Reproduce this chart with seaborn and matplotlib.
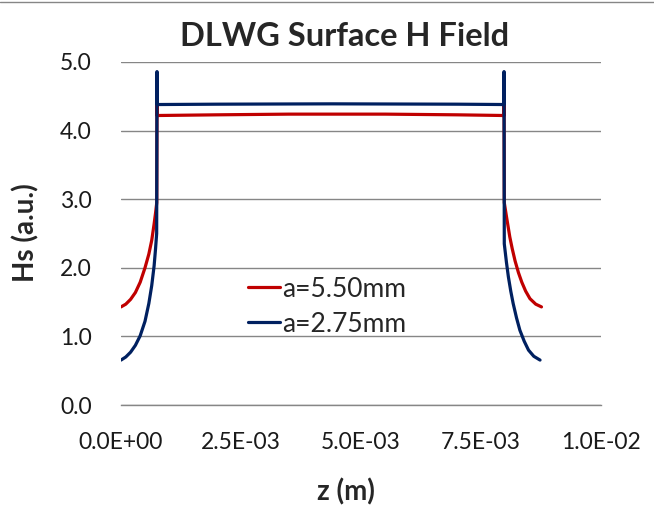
import matplotlib
matplotlib.use("Agg")
import numpy as np
import pandas as pd
import seaborn as sns
import matplotlib.pyplot as plt
from matplotlib.ticker import MultipleLocator, FuncFormatter
from matplotlib.lines import Line2D

# values
red_z = [0.0, 0.0001, 0.0002, 0.0003, 0.0004, 0.0005, 0.00058, 0.00064, 0.00069, 0.00072,
         0.000745, 0.00075, 0.000755, 0.002, 0.0035, 0.0044, 0.0055, 0.007, 0.007975,
         0.00798, 0.007985, 0.00803, 0.0081, 0.00815, 0.00821, 0.00828, 0.00835,
         0.00843, 0.00852, 0.00864, 0.00876]
red_hs = [1.43, 1.47, 1.54, 1.64, 1.79, 2.0, 2.2, 2.4, 2.64, 2.8,
          2.95, 4.56, 4.22, 4.23, 4.24, 4.24, 4.24, 4.23, 4.22,
          4.56, 2.95, 2.75, 2.45, 2.28, 2.1, 1.93, 1.79,
          1.66, 1.55, 1.47, 1.43]

blue_z = [0.0, 0.0001, 0.0002, 0.0003, 0.0004, 0.0005, 0.00058, 0.00064, 0.00069, 0.00072,
          0.000743, 0.00075, 0.000755, 0.002, 0.0044, 0.007, 0.007975, 0.00798,
          0.007985, 0.00803, 0.00807, 0.00812, 0.00817, 0.00824, 0.00831, 0.0084,
          0.00849, 0.0086, 0.00873]
blue_hs = [0.655, 0.70, 0.77, 0.87, 1.01, 1.22, 1.48, 1.74, 2.03, 2.28,
           2.5, 4.86, 4.38, 4.385, 4.39, 4.385, 4.38, 4.86,
           2.35, 2.08, 1.87, 1.66, 1.48, 1.27, 1.09, 0.93,
           0.80, 0.71, 0.655]

series = ["a=5.50mm", "a=2.75mm"]
colors = ["#C00000", "#002060"]
y_ticks = [0.0, 1.0, 2.0, 3.0, 4.0, 5.0]
y_ticklabels = ["0.0", "1.0", "2.0", "3.0", "4.0", "5.0"]

df = pd.concat([
    pd.DataFrame({"z": red_z, "Hs": red_hs, "series": series[0]}),
    pd.DataFrame({"z": blue_z, "Hs": blue_hs, "series": series[1]}),
])

sns.set_style("white")
plt.rcParams["font.family"] = ["Lato", "DejaVu Sans"]

fig = plt.figure(figsize=(6.54, 5.16), dpi=100)
ax = fig.add_axes([121 / 654, 1 - 405 / 516, 480 / 654, 343 / 516])

sns.lineplot(data=df, x="z", y="Hs", hue="series", palette=dict(zip(series, colors)),
             sort=False, estimator=None, linewidth=2.3, ax=ax, legend=False)

ax.set_xlim(0, 0.01)
ax.set_ylim(0, 5)
ax.xaxis.set_major_locator(MultipleLocator(0.0025))
ax.xaxis.set_minor_locator(MultipleLocator(0.0005))
ax.xaxis.set_major_formatter(FuncFormatter(lambda v, p: f"{v:.1E}"))
ax.set_yticks(y_ticks, y_ticklabels)

grid_c = "#868686"
ax.grid(axis="y", color=grid_c, linewidth=1.0)
ax.set_axisbelow(True)
for s in ["left", "right", "top"]:
    ax.spines[s].set_visible(False)
ax.spines["bottom"].set_color(grid_c)
ax.spines["bottom"].set_linewidth(1.0)

ax.tick_params(axis="x", which="major", direction="inout", length=12, width=1,
               color=grid_c, labelsize=16.5, pad=13.5, labelcolor="#1a1a1a")
ax.tick_params(axis="x", which="minor", direction="in", length=5, width=1, color=grid_c)
ax.tick_params(axis="y", length=0, pad=21, labelsize=16.5, labelcolor="#1a1a1a")

ax.set_xlabel("")
ax.set_ylabel("")
fig.text(345 / 654, 1 - 36 / 516, "DLWG Surface H Field", ha="center", va="center",
         fontsize=23.5, fontweight="bold")
fig.text(346 / 654, 1 - 492 / 516, "z (m)", ha="center", va="center",
         fontsize=20, fontweight="bold")
fig.text(26 / 654, 1 - 233 / 516, "Hs (a.u.)", ha="center", va="center",
         fontsize=20, fontweight="bold", rotation=90)

handles = [Line2D([0], [0], color=c, linewidth=2.3) for c in colors]
ax.legend(handles, series, loc="center left", bbox_to_anchor=(0.265, 0.287),
          frameon=False, fontsize=19, handlelength=1.2, handletextpad=0.1,
          labelspacing=0.38, borderaxespad=0, borderpad=0)

# thin chart-area border line along the top, as in the reference
fig.add_artist(Line2D([0, 1], [1 - 1.5 / 516] * 2, color=grid_c, linewidth=1))

fig.savefig("out.png", dpi=100)
